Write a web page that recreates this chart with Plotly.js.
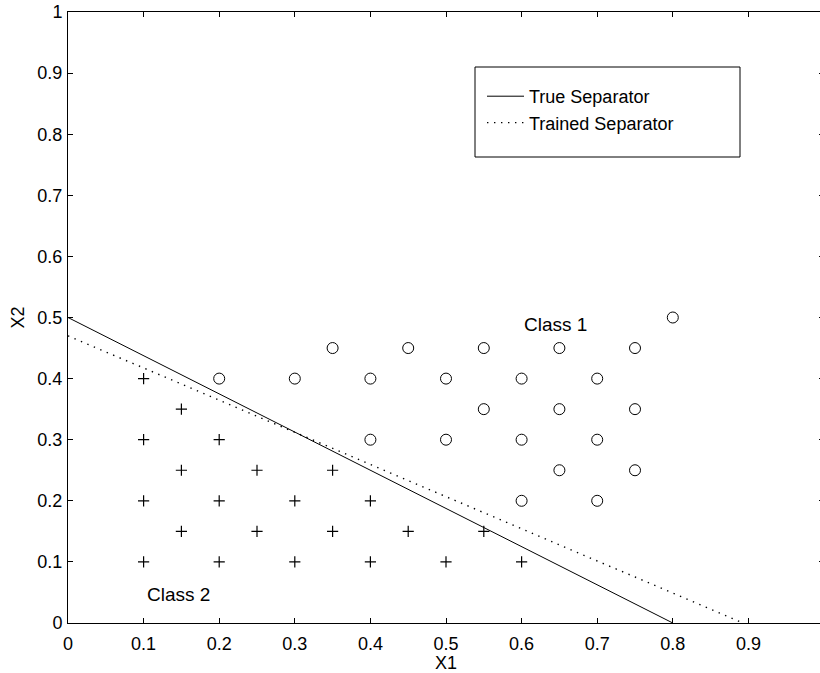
<!DOCTYPE html>
<html>
<head>
<meta charset="utf-8">
<script src="https://cdn.plot.ly/plotly-3.0.1.min.js"></script>
<style>
html,body{margin:0;padding:0;overflow:hidden;background:#fff;}
#chart{width:824px;height:673px;}
</style>
</head>
<body>
<div id="chart"></div>
<script>
// Class 1 points (circles)
const class1X = [0.2,0.3,0.35,0.4,0.45,0.5,0.55,0.6,0.65,0.7,0.75,0.8,0.55,0.65,0.75,0.4,0.5,0.6,0.7,0.65,0.75,0.6,0.7];
const class1Y = [0.4,0.4,0.45,0.4,0.45,0.4,0.45,0.4,0.45,0.4,0.45,0.5,0.35,0.35,0.35,0.3,0.3,0.3,0.3,0.25,0.25,0.2,0.2];
// Class 2 points (pluses)
const class2X = [0.1,0.15,0.1,0.2,0.15,0.25,0.35,0.1,0.2,0.3,0.4,0.15,0.25,0.35,0.45,0.55,0.1,0.2,0.3,0.4,0.5,0.6];
const class2Y = [0.4,0.35,0.3,0.3,0.25,0.25,0.25,0.2,0.2,0.2,0.2,0.15,0.15,0.15,0.15,0.15,0.1,0.1,0.1,0.1,0.1,0.1];
// Separators
const trueSepX = [0, 0.8];
const trueSepY = [0.5, 0];
const trainedSepX = [0, 0.893];
const trainedSepY = [0.47, 0];
const tickVals = [0,0.1,0.2,0.3,0.4,0.5,0.6,0.7,0.8,0.9,1];
const tickText = ['0','0.1','0.2','0.3','0.4','0.5','0.6','0.7','0.8','0.9','1'];

const FONT = 'Liberation Sans, Arial, Helvetica, sans-serif';

const traces = [
  {x: trueSepX, y: trueSepY, mode: 'lines', name: 'True Separator',
   line: {color: '#000', width: 1}},
  {x: trainedSepX, y: trainedSepY, mode: 'lines', name: 'Trained Separator',
   line: {color: '#000', width: 1.4, dash: '1.4px,5.6px'}},
  {x: class1X, y: class1Y, mode: 'markers', showlegend: false,
   marker: {symbol: 'circle-open', size: 11, color: '#000', line: {width: 1, color: '#000'}}},
  {x: class2X, y: class2Y, mode: 'markers', showlegend: false,
   marker: {symbol: 'cross-thin-open', size: 8, color: '#000', line: {width: 1.2, color: '#000'}}}
];

const axisCommon = {
  range: [0, 1], tickvals: tickVals, ticktext: tickText,
  ticks: 'inside', ticklen: 5, tickwidth: 1, tickcolor: '#000',
  showline: true, linecolor: '#000', linewidth: 1, mirror: 'ticks',
  showgrid: false, zeroline: false,
  tickfont: {family: FONT, size: 18, color: '#000'}
};

const layout = {
  width: 824, height: 673,
  margin: {l: 68, r: 0, t: 12, b: 50},
  paper_bgcolor: '#fff', plot_bgcolor: '#fff',
  font: {family: FONT, color: '#000'},
  xaxis: Object.assign({}, axisCommon, {
    ticklabelstandoff: 4,
    title: {text: 'X1', font: {family: FONT, size: 18, color: '#000'}, standoff: 0}
  }),
  yaxis: Object.assign({}, axisCommon, {
    ticklabelstandoff: 1,
    title: {text: 'X2', font: {family: FONT, size: 18, color: '#000'}, standoff: 8}
  }),
  showlegend: true,
  legend: {
    x: (482 - 68) / 756, y: (623 - 78) / 611, xanchor: 'left', yanchor: 'top',
    bgcolor: 'rgba(0,0,0,0)', borderwidth: 0,
    font: {family: FONT, size: 18, color: '#000'},
    itemwidth: 37
  },
  shapes: [
    {type: 'rect', xref: 'paper', yref: 'paper',
     x0: (475 - 68) / 756, x1: (740 - 68) / 756,
     y0: (623 - 157) / 611, y1: (623 - 67) / 611,
     line: {color: '#000', width: 1}, fillcolor: 'rgba(0,0,0,0)', layer: 'below'}
  ],
  annotations: [
    {x: 0.6, y: 0.488, xref: 'x', yref: 'y', text: 'Class 1', showarrow: false,
     xanchor: 'left', yanchor: 'middle', font: {family: FONT, size: 19, color: '#000'}},
    {x: 0.102, y: 0.046, xref: 'x', yref: 'y', text: 'Class 2', showarrow: false,
     xanchor: 'left', yanchor: 'middle', font: {family: FONT, size: 19, color: '#000'}}
  ]
};

Plotly.newPlot('chart', traces, layout, {displayModeBar: false, staticPlot: true});
</script>
</body>
</html>
